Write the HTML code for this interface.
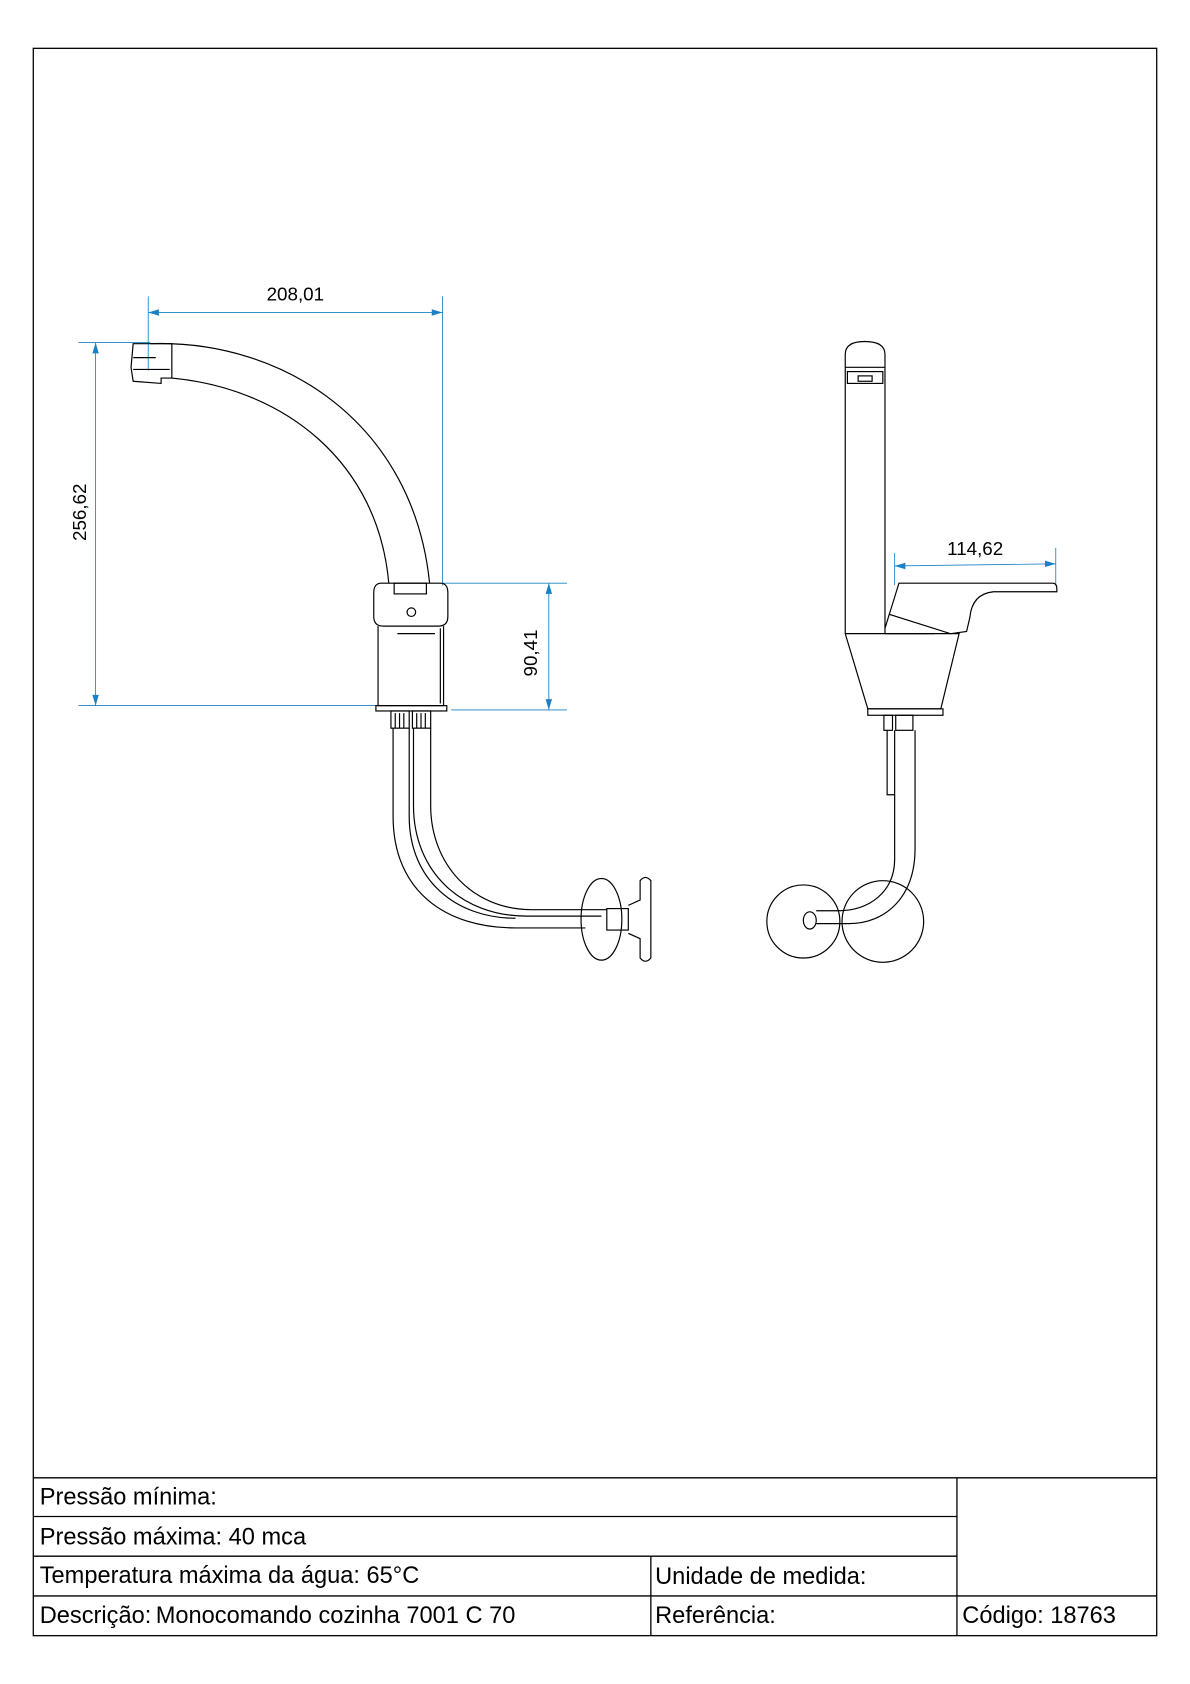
<!DOCTYPE html>
<html><head><meta charset="utf-8"><style>
html,body{margin:0;padding:0;background:#fff;}
svg{display:block;}
text{font-family:"Liberation Sans",Arial,sans-serif;}
</style></head><body>
<svg width="1190" height="1684" viewBox="0 0 1108 1568" preserveAspectRatio="none" xmlns="http://www.w3.org/2000/svg">
<rect x="0" y="0" width="1108" height="1568" fill="#fff"/>
<rect x="31" y="45" width="1046" height="1478" fill="none" stroke="#000" stroke-width="1.2"/>
<g stroke="#000" stroke-width="1.2" fill="none">
<line x1="31" y1="1376" x2="1077" y2="1376"/>
<line x1="31" y1="1412" x2="891" y2="1412"/>
<line x1="31" y1="1449" x2="891" y2="1449"/>
<line x1="31" y1="1486" x2="1077" y2="1486"/>
<line x1="891" y1="1376" x2="891" y2="1523"/>
<line x1="606" y1="1449" x2="606" y2="1523"/>
</g>
<g font-size="22" fill="#000">
<text x="37" y="1401">Pressão mínima:</text>
<text x="37" y="1438">Pressão máxima: 40 mca</text>
<text x="37" y="1474">Temperatura máxima da água: 65°C</text>
<text x="37" y="1511">Descrição:</text>
<text x="145" y="1511">Monocomando cozinha 7001 C 70</text>
<text x="610" y="1475">Unidade de medida:</text>
<text x="610" y="1511">Referência:</text>
<text x="896" y="1511">Código: 18763</text>
</g>

<g stroke="#1a82c4" stroke-width="0.8" fill="none">
<line x1="138" y1="276" x2="138" y2="345"/>
<line x1="412" y1="276" x2="412" y2="545"/>
<line x1="138" y1="291" x2="412" y2="291"/>
<line x1="73" y1="319" x2="140" y2="319"/>
<line x1="73" y1="657" x2="350" y2="657"/>
<line x1="89" y1="319" x2="89" y2="657"/>
<line x1="412" y1="543" x2="528" y2="543"/>
<line x1="420" y1="661" x2="528" y2="661"/>
<line x1="511" y1="543" x2="511" y2="661"/>
<line x1="833" y1="515" x2="833" y2="545"/>
<line x1="983" y1="510" x2="983" y2="545"/>
<line x1="833" y1="527" x2="983" y2="525"/>
</g>
<g fill="#1a82c4">
<polygon points="138,291 148,288 148,294"/>
<polygon points="412,291 402,288 402,294"/>
<polygon points="89,319 86,329 92,329"/>
<polygon points="89,657 86,647 92,647"/>
<polygon points="511,543 508,553 514,553"/>
<polygon points="511,661 508,651 514,651"/>
<polygon points="833,527 843,524 843,530"/>
<polygon points="983,525 973,522 973,528"/>
</g>
<g font-size="17.5" fill="#000">
<text x="275" y="280" text-anchor="middle">208,01</text>
<text x="908" y="517" text-anchor="middle">114,62</text>
<text transform="translate(80,477) rotate(-90)" text-anchor="middle">256,62</text>
<text transform="translate(500,608) rotate(-90)" text-anchor="middle">90,41</text>
</g>

<g stroke="#000" stroke-width="1.1" fill="none">
<path d="M140,320 C265,316 385,395 400,543"/>
<path d="M160,352 C265,362 352,430 362,543"/>
<path d="M124,320 L160,320 L160,352 L150,352 L150,357 L124,355 L122,342 Z"/>
<line x1="124" y1="333" x2="145" y2="333"/>
<line x1="124" y1="344" x2="158" y2="344"/>
<path d="M355,543 H410 Q417,543 417,552 V574 Q417,583 408,583 H357 Q348,583 348,574 V552 Q348,543 355,543 Z"/>
<rect x="367" y="543" width="30" height="10"/>
<circle cx="383" cy="570" r="4"/>
<path d="M352,583 V657 H413 V583"/>
<line x1="370" y1="590" x2="405" y2="590"/>
<line x1="410" y1="585" x2="410" y2="655"/>
<rect x="350" y="657" width="66" height="5"/>
<rect x="364" y="662" width="17" height="16"/>
<rect x="384" y="662" width="17" height="16"/>
<line x1="368" y1="664" x2="368" y2="678"/><line x1="372" y1="664" x2="372" y2="678"/><line x1="376" y1="664" x2="376" y2="678"/>
<line x1="388" y1="664" x2="388" y2="678"/><line x1="392" y1="664" x2="392" y2="678"/><line x1="396" y1="664" x2="396" y2="678"/>
<path d="M366,678 V760 C366,830 415,864 480,864 H545"/>
<path d="M381,678 V760 C381,820 425,855 480,855"/>
<path d="M385,678 V750 C385,812 430,853 490,853 H560"/>
<path d="M401,678 V750 C401,805 440,847 495,847 H565"/>
<rect x="565" y="846" width="20" height="20"/>
<ellipse cx="560" cy="856" rx="19" ry="38"/>
<path d="M585,843 L596,838 L596,820 Q601,814 606,820 V892 Q601,898 596,892 V874 L585,869"/>
</g>

<g stroke="#000" stroke-width="1.1" fill="none">
<path d="M787,590 V330 Q787,318 805,318 Q824,318 824,330 V590"/>
<line x1="787" y1="342" x2="824" y2="342"/>
<rect x="789" y="346" width="33" height="11"/>
<rect x="799" y="350" width="13" height="5"/>
<path d="M833,556 L837,543 H980 Q984,543 984,548 V551 H925 Q905,553 903,575 L900,588 L885,590 L828,572 Z"/>
<line x1="828" y1="572" x2="824" y2="585"/>
<path d="M787,590 H893 L876,660 H808 Z"/>
<line x1="824" y1="590" x2="870" y2="590"/>
<rect x="808" y="660" width="70" height="6"/>
<rect x="823" y="666" width="8" height="14"/>
<path d="M826,680 V740 H833"/>
<rect x="834" y="666" width="16" height="14"/>
<path d="M833,680 V800 C833,830 810,848 780,848 H760"/>
<path d="M852,680 V790 C852,835 825,860 790,860 H760"/>
<circle cx="748" cy="858" r="34"/>
<circle cx="822" cy="858" r="38"/>
<ellipse cx="754" cy="857" rx="6" ry="8"/>
</g>
</svg>
</body></html>
